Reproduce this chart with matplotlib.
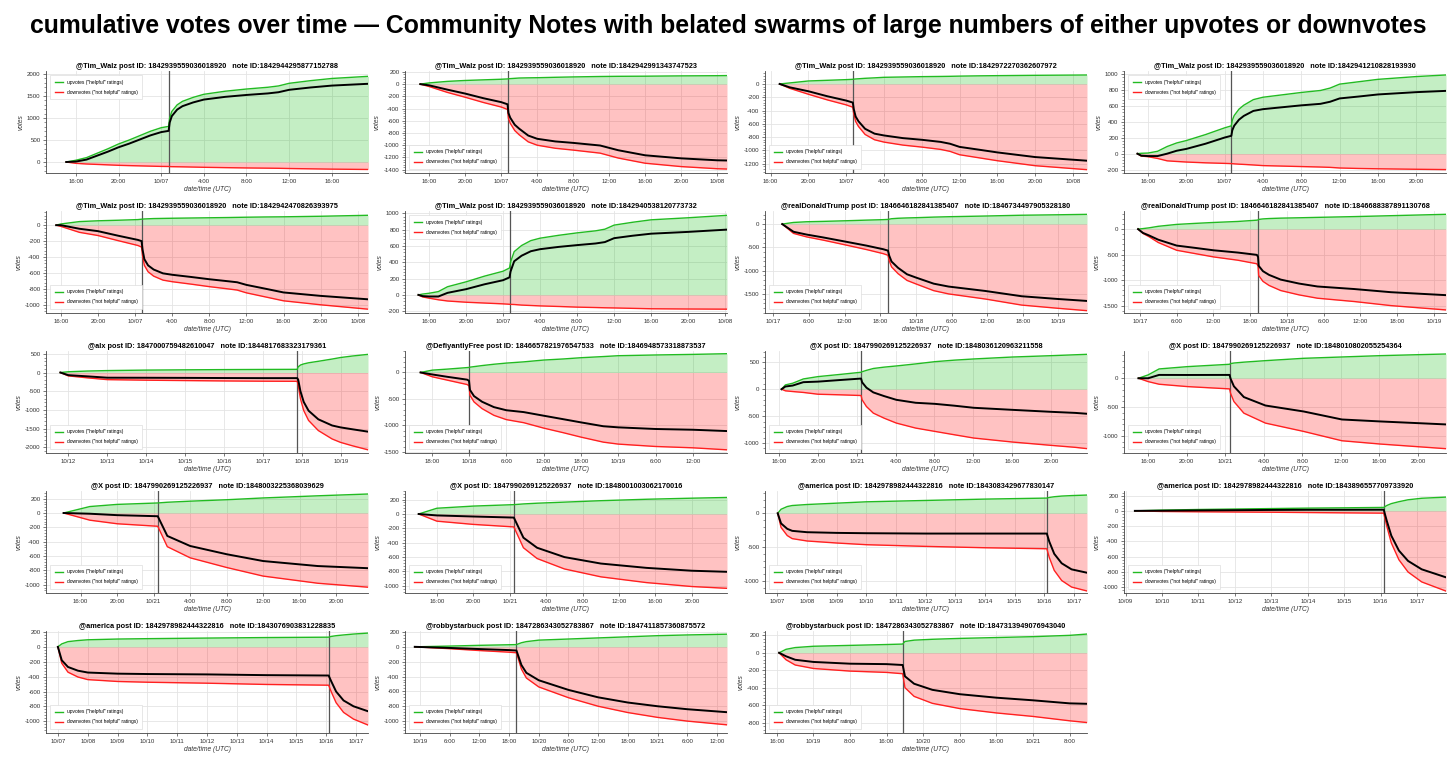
import matplotlib
matplotlib.use("Agg")
import matplotlib.pyplot as plt
import matplotlib.dates as mdates
from matplotlib.ticker import FixedLocator, FuncFormatter, MultipleLocator, AutoMinorLocator
import pandas as pd

plt.rcParams['font.family'] = ['Liberation Sans', 'DejaVu Sans']
plt.rcParams['axes.unicode_minus'] = False

# ---------------- text ----------------
TITLE = ("cumulative votes over time \u2014 Community Notes with belated swarms of "
         "large numbers of either upvotes or downvotes")
LEGEND_LABELS = ['upvotes ("helpful" ratings)', 'downvotes ("not helpful" ratings)']
X_LABEL = "date/time (UTC)"
Y_LABEL = "votes"

ACCOUNTS = ["@Tim_Walz", "@Tim_Walz", "@Tim_Walz", "@Tim_Walz",
            "@Tim_Walz", "@Tim_Walz", "@realDonaldTrump", "@realDonaldTrump",
            "@alx", "@DefiyantlyFree", "@X", "@X",
            "@X", "@X", "@america", "@america",
            "@america", "@robbystarbuck", "@robbystarbuck"]
POST_IDS = ["1842939559036018920", "1842939559036018920", "1842939559036018920", "1842939559036018920",
            "1842939559036018920", "1842939559036018920", "1846646182841385407", "1846646182841385407",
            "1847000759482610047", "1846657821976547533", "1847990269125226937", "1847990269125226937",
            "1847990269125226937", "1847990269125226937", "1842978982444322816", "1842978982444322816",
            "1842978982444322816", "1847286343052783867", "1847286343052783867"]
NOTE_IDS = ["1842944295877152788", "1842942991343747523", "1842972270362607972", "1842941210828193930",
            "1842942470826393975", "1842940538120773732", "1846734497905328180", "1846688387891130768",
            "1844817683323179361", "1846948573318873537", "1848036120963211558", "1848010802055254364",
            "1848003225368039629", "1848001003062170016", "1843083429677830147", "1843896557709733920",
            "1843076903831228835", "1847411857360875572", "1847313949076943040"]

# reference midnight for each panel's hour offsets
BASE_DAYS = ["2024-10-06", "2024-10-06", "2024-10-06", "2024-10-06",
             "2024-10-06", "2024-10-06", "2024-10-17", "2024-10-17",
             "2024-10-12", "2024-10-18", "2024-10-21", "2024-10-21",
             "2024-10-21", "2024-10-21", "2024-10-07", "2024-10-09",
             "2024-10-07", "2024-10-19", "2024-10-18"]
# time of the belated swarm (hours after base)
SWARM_HOURS = [24.7, 24.7, 24.7, 24.7, 24.7, 24.7, 19.3, 19.3, 141.0, 0.0,
               0.45, 0.45, 0.45, 0.45, 218.0, 170.0, 218.0, 19.5, 43.5]

# ---------------- series (hours after base, cumulative upvotes, cumulative downvotes) ----------------
P01_HOURS = [15.1, 16, 17, 18, 19, 20, 21, 22, 23, 24, 24.7, 24.8, 25.0, 25.5, 26, 27, 28, 30, 32, 34, 35, 36, 38, 40, 43.5]
P01_UP = [0, 40, 100, 200, 300, 410, 500, 600, 700, 780, 810, 1000, 1150, 1300, 1380, 1470, 1540, 1610, 1660, 1700, 1730, 1790, 1850, 1900, 1950]
P01_DOWN = [0, -30, -45, -55, -65, -75, -82, -88, -94, -100, -102, -104, -106, -108, -110, -115, -120, -128, -135, -140, -143, -148, -155, -162, -170]

P02_HOURS = [15.0, 16, 18, 20, 22, 24, 24.7, 24.8, 25.0, 25.5, 26, 27, 28, 30, 32, 35, 37, 40, 44, 48, 49.1]
P02_UP = [0, 20, 45, 60, 70, 80, 85, 88, 90, 95, 100, 103, 105, 112, 118, 125, 128, 130, 135, 138, 140]
P02_DOWN = [0, -40, -135, -215, -300, -375, -415, -560, -640, -760, -830, -945, -1000, -1050, -1080, -1130, -1210, -1295, -1350, -1385, -1390]

P03_HOURS = [16.95, 18, 20, 22, 24, 24.7, 24.8, 25.0, 25.3, 26, 27, 28, 30, 32, 34, 35, 36, 38, 40, 44, 49.5]
P03_UP = [0, 15, 45, 55, 65, 70, 72, 75, 78, 85, 92, 100, 105, 110, 113, 115, 118, 122, 125, 130, 135]
P03_DOWN = [0, -65, -155, -240, -315, -350, -450, -565, -640, -760, -840, -875, -920, -950, -985, -1015, -1065, -1110, -1155, -1230, -1290]

P04_HOURS = [14.9, 15.3, 16, 17, 18, 19, 20, 22, 24, 24.7, 24.8, 25.0, 25.5, 26, 27, 28, 30, 32, 34, 35, 36, 38, 40, 44, 47.1]
P04_UP = [0, 5, 8, 30, 90, 135, 165, 240, 325, 350, 420, 480, 560, 610, 680, 710, 740, 770, 795, 825, 875, 905, 935, 970, 990]
P04_DOWN = [0, -30, -38, -60, -90, -98, -105, -115, -122, -125, -126, -128, -132, -135, -142, -150, -156, -162, -168, -172, -180, -186, -190, -196, -200]

P05_HOURS = [15.5, 16, 18, 20, 22.2, 24.3, 24.7, 24.8, 25.0, 25.4, 26, 27, 28, 30, 32, 34, 35, 36, 38, 40, 44, 49.1]
P05_UP = [0, 15, 45, 55, 62, 70, 75, 76, 78, 80, 83, 85, 87, 90, 93, 96, 98, 100, 103, 105, 112, 124]
P05_DOWN = [0, -15, -90, -130, -195, -255, -275, -380, -505, -585, -640, -690, -710, -740, -772, -800, -815, -850, -900, -950, -1000, -1055]

P06_HOURS = [14.85, 15.3, 16, 17, 18, 20, 22, 24, 24.7, 24.8, 25.2, 26, 27, 28, 30, 32, 34, 35, 36, 38, 40, 44, 48.2]
P06_UP = [0, 10, 20, 40, 100, 160, 230, 290, 330, 400, 530, 605, 665, 695, 730, 760, 785, 805, 855, 890, 920, 945, 975]
P06_DOWN = [0, -25, -40, -60, -75, -90, -100, -110, -115, -116, -118, -125, -130, -135, -142, -150, -155, -158, -160, -165, -170, -173, -175]

P07_HOURS = [1.5, 3.4, 5.6, 8.4, 12.4, 15.7, 18.5, 19.3, 19.5, 19.9, 21.0, 22.5, 24, 27, 29.5, 35.7, 41.8, 48, 52.8]
P07_UP = [0, 35, 50, 58, 72, 85, 95, 100, 105, 115, 125, 132, 137, 150, 158, 173, 190, 200, 209]
P07_DOWN = [0, -200, -275, -345, -455, -548, -635, -670, -780, -920, -1065, -1210, -1285, -1430, -1500, -1610, -1740, -1810, -1860]

P08_HOURS = [-0.3, 0.5, 1.5, 3, 6, 9, 12, 16, 19.1, 19.3, 19.4, 20.1, 21.1, 23, 26, 29, 35, 41, 50]
P08_UP = [0, 10, 25, 55, 92, 112, 130, 150, 175, 180, 190, 200, 207, 215, 222, 230, 245, 263, 290]
P08_DOWN = [0, -85, -150, -263, -415, -480, -545, -610, -680, -725, -910, -1025, -1105, -1205, -1290, -1355, -1420, -1500, -1585]

P09_HOURS = [-4.85, 0, 12, 24, 48, 72, 96, 120, 141, 141.6, 143, 145, 148, 154, 162.5, 167.6, 174.8, 184.6]
P09_UP = [0, 20, 40, 52, 65, 72, 78, 82, 85, 150, 200, 230, 260, 300, 360, 400, 440, 485]
P09_DOWN = [0, -90, -143, -190, -205, -215, -225, -232, -235, -340, -700, -1015, -1280, -1550, -1775, -1865, -1955, -2065]

P10_HOURS = [-7.8, -5.9, -3.5, -0.3, 0, 0.15, 0.8, 2.1, 4, 6, 8.8, 12, 15.2, 18, 21.6, 24, 30, 36, 41.5]
P10_UP = [0, 44, 63, 92, 95, 100, 110, 130, 155, 177, 200, 234, 255, 278, 300, 316, 330, 341, 354]
P10_DOWN = [0, -82, -145, -228, -253, -430, -556, -683, -809, -890, -948, -1050, -1138, -1220, -1315, -1352, -1397, -1422, -1460]

P11_HOURS = [-7.75, -7.35, -6.6, -5.5, -4, -1.55, 0.44, 0.55, 0.99, 1.7, 2.8, 4.07, 6.06, 8.05, 10.04, 12.04, 16, 20, 22.5, 23.7]
P11_UP = [0, 80, 111, 191, 234, 278, 315, 325, 350, 385, 410, 432, 470, 512, 540, 562, 598, 623, 640, 648]
P11_DOWN = [0, -30, -43, -60, -93, -105, -117, -197, -321, -444, -537, -629, -722, -784, -846, -907, -981, -1043, -1080, -1104]

P12_HOURS = [-9.0, -8, -6.86, -3.93, 0.45, 0.55, 0.9, 1.93, 4.17, 8.14, 12.1, 16.07, 20.03, 22.9]
P12_UP = [0, 58, 162, 202, 243, 255, 265, 280, 306, 347, 370, 393, 410, 422]
P12_DOWN = [0, -58, -104, -145, -185, -260, -405, -607, -780, -925, -1087, -1144, -1191, -1225]

P13_HOURS = [-9.87, -7, -4, 0.45, 1.5, 4, 8, 12, 18, 23.5]
P13_UP = [0, 90, 120, 140, 150, 165, 185, 210, 240, 265]
P13_DOWN = [0, -100, -150, -185, -470, -625, -760, -880, -980, -1035]

P14_HOURS = [-10.0, -8, -4, 0.45, 1.5, 3, 6, 10, 15, 20, 23.85]
P14_UP = [0, 80, 110, 130, 140, 150, 165, 185, 205, 220, 230]
P14_DOWN = [0, -100, -145, -180, -470, -620, -765, -875, -955, -1010, -1035]

P15_HOURS = [0.28, 3, 8, 12, 24, 48, 72, 120, 168, 218, 220, 224, 230, 238, 250.5]
P15_UP = [0, 60, 100, 115, 130, 150, 170, 190, 210, 225, 235, 245, 255, 262, 270]
P15_DOWN = [0, -210, -330, -375, -410, -440, -465, -490, -510, -525, -655, -845, -995, -1092, -1150]

P16_HOURS = [6.15, 24, 48, 72, 96, 120, 144, 170, 172, 175, 180, 186, 195, 211]
P16_UP = [0, 10, 18, 24, 30, 36, 40, 45, 70, 95, 120, 145, 165, 180]
P16_DOWN = [0, -8, -12, -15, -18, -22, -26, -30, -200, -420, -640, -800, -930, -1050]

P17_HOURS = [-0.13, 3, 8, 16, 24, 48, 72, 120, 168, 218, 220, 224, 230, 238, 249.7]
P17_UP = [0, 40, 70, 85, 95, 105, 110, 118, 125, 130, 140, 150, 160, 172, 185]
P17_DOWN = [0, -220, -340, -405, -440, -465, -475, -488, -505, -515, -600, -750, -880, -970, -1050]

P18_HOURS = [-1.03, 6, 12, 18, 19.5, 20.5, 21.5, 24, 30, 36, 42, 48, 54, 62]
P18_UP = [0, 10, 20, 28, 30, 55, 70, 90, 105, 120, 135, 150, 160, 170]
P18_DOWN = [0, -25, -50, -72, -80, -300, -420, -540, -685, -800, -885, -950, -1000, -1050]

P19_HOURS = [16.48, 18, 20, 24, 32, 40, 43.5, 44, 46, 50, 56, 64, 72, 80, 83.8]
P19_UP = [0, 40, 60, 75, 85, 95, 100, 130, 145, 155, 165, 175, 185, 200, 215]
P19_DOWN = [0, -80, -140, -180, -210, -225, -240, -400, -500, -580, -640, -690, -730, -780, -800]

SERIES = [
    (P01_HOURS, P01_UP, P01_DOWN), (P02_HOURS, P02_UP, P02_DOWN), (P03_HOURS, P03_UP, P03_DOWN),
    (P04_HOURS, P04_UP, P04_DOWN), (P05_HOURS, P05_UP, P05_DOWN), (P06_HOURS, P06_UP, P06_DOWN),
    (P07_HOURS, P07_UP, P07_DOWN), (P08_HOURS, P08_UP, P08_DOWN), (P09_HOURS, P09_UP, P09_DOWN),
    (P10_HOURS, P10_UP, P10_DOWN), (P11_HOURS, P11_UP, P11_DOWN), (P12_HOURS, P12_UP, P12_DOWN),
    (P13_HOURS, P13_UP, P13_DOWN), (P14_HOURS, P14_UP, P14_DOWN), (P15_HOURS, P15_UP, P15_DOWN),
    (P16_HOURS, P16_UP, P16_DOWN), (P17_HOURS, P17_UP, P17_DOWN), (P18_HOURS, P18_UP, P18_DOWN),
    (P19_HOURS, P19_UP, P19_DOWN),
]

# ---------------- axes ranges / ticks (layout) ----------------
X_RANGES = [(13.2, 43.4), (13.3, 49.1), (15.4, 49.5), (13.5, 47.1), (14.4, 49.1), (13.4, 48.2),
            (-1.4, 52.8), (-2.6, 50.0), (-13.7, 184.6), (-10.3, 41.5), (-9.45, 23.7), (-10.5, 22.9),
            (-11.8, 23.5), (-11.5, 23.85), (-10.0, 250.5), (-1.0, 211.0), (-9.7, 249.7),
            (-3.0, 62.0), (13.4, 83.8)]
Y_RANGES = [(-250, 2070), (-1455, 215), (-1340, 195), (-243, 1040), (-1103, 178), (-222, 1028),
            (-1910, 281), (-1645, 355), (-2150, 575), (-1520, 405), (-1185, 710), (-1300, 474),
            (-1116, 307), (-1100, 320), (-1180, 330), (-1075, 260), (-1157, 213), (-1160, 213),
            (-920, 250)]
Y_STEP = [500, 200, 200, 200, 200, 200, 500, 500, 500, 500, 500, 500,
          200, 200, 500, 200, 200, 200, 200]
X_STEP_H = [4, 4, 4, 4, 4, 4, 6, 6, 24, 6, 4, 4, 4, 4, 24, 24, 24, 6, 8]
LEGEND_LOC = ["upper left", "lower left", "lower left", "upper left", "lower left", "upper left",
              "lower left", "lower left", "lower left", "lower left", "lower left", "lower left",
              "lower left", "lower left", "lower left", "lower left", "lower left", "lower left",
              "lower left"]

GREEN = "#22bb22"
RED = "#ff2020"
W, H = 1456, 767
COL_LEFT = [46, 405, 765, 1124]
ROW_TOP = [71, 211, 351, 491, 631]
AX_W, AX_H = 322, 102

fig = plt.figure(figsize=(W / 100, H / 100), dpi=100)
fig.text(0.5, 1 - 26 / H, TITLE, ha="center", va="center", fontsize=17.8, fontweight="bold")


def to_num(base, hours):
    b = pd.Timestamp(base)
    return [mdates.date2num((b + pd.Timedelta(hours=float(h))).to_pydatetime()) for h in hours]


def xfmt(x, pos):
    t = pd.Timestamp(mdates.num2date(x)).round("min")
    if t.hour == 0 and t.minute == 0:
        return t.strftime("%m/%d")
    return f"{t.hour}:{t.minute:02d}"


for i, (hrs, up, down) in enumerate(SERIES):
    r, c = divmod(i, 4)
    rect = [COL_LEFT[c] / W, 1 - (ROW_TOP[r] + AX_H) / H, AX_W / W, AX_H / H]
    ax = fig.add_axes(rect)
    base = BASE_DAYS[i]
    x = to_num(base, hrs)
    net = [u + d for u, d in zip(up, down)]

    ax.fill_between(x, 0, up, color=(0.0, 0.72, 0.0), alpha=0.23, lw=0, zorder=1)
    ax.fill_between(x, down, 0, color=(1.0, 0.0, 0.0), alpha=0.24, lw=0, zorder=1)
    ax.axvline(to_num(base, [SWARM_HOURS[i]])[0], color="#555555", lw=0.9, zorder=2)
    l1, = ax.plot(x, up, color=GREEN, lw=1.0, zorder=3)
    l2, = ax.plot(x, down, color=RED, lw=1.0, zorder=3)
    ax.plot(x, net, color="black", lw=1.4, zorder=4)

    x0, x1 = X_RANGES[i]
    ax.set_xlim(*to_num(base, [x0, x1]))
    ax.set_ylim(*Y_RANGES[i])

    step = X_STEP_H[i]
    k0 = int(-(-x0 // step))
    ticks_h = [k * step for k in range(k0, int(x1 // step) + 1)]
    ax.xaxis.set_major_locator(FixedLocator(to_num(base, ticks_h)))
    ax.xaxis.set_major_formatter(FuncFormatter(xfmt))
    ax.yaxis.set_major_locator(MultipleLocator(Y_STEP[i]))
    ax.yaxis.set_minor_locator(AutoMinorLocator(5))

    ax.set_axisbelow(True)
    ax.grid(True, which="major", color="#e4e4e4", lw=0.6)
    for s in ("top", "right"):
        ax.spines[s].set_visible(False)
    for s in ("left", "bottom"):
        ax.spines[s].set_color("#444444")
        ax.spines[s].set_linewidth(0.6)
    ax.tick_params(axis="both", which="major", labelsize=4.4, length=2.5, width=0.5,
                   color="#444444", labelcolor="#333333", pad=1.5)
    ax.tick_params(axis="y", which="minor", length=1.4, width=0.4, color="#444444")

    ax.set_title(f"{ACCOUNTS[i]} post ID: {POST_IDS[i]}   note ID:{NOTE_IDS[i]}",
                 fontsize=5.3, fontweight="bold", pad=2.5)
    ax.set_xlabel(X_LABEL, fontsize=4.8, style="italic", labelpad=1.5, color="#333333")
    ax.set_ylabel(Y_LABEL, fontsize=4.8, style="italic", labelpad=2, color="#333333")

    leg = ax.legend([l1, l2], LEGEND_LABELS, loc=LEGEND_LOC[i], fontsize=3.5,
                    frameon=True, fancybox=False, edgecolor="#dddddd", framealpha=1,
                    borderpad=0.9, labelspacing=1.0, handlelength=1.6, handletextpad=0.9,
                    borderaxespad=0.9)
    leg.get_frame().set_linewidth(0.5)
    leg.set_zorder(10)

fig.savefig("out.png", dpi=100)
